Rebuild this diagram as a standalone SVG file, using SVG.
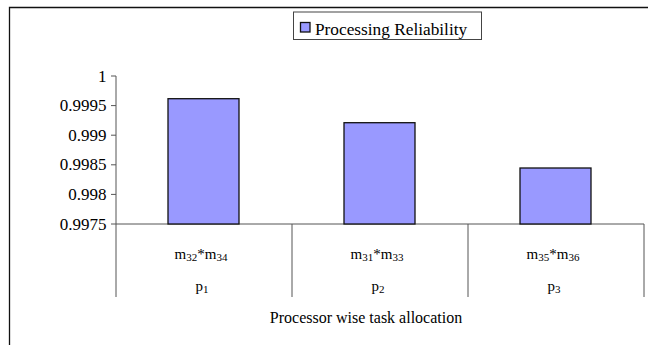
<svg xmlns="http://www.w3.org/2000/svg" width="648" height="345" viewBox="0 0 648 345" font-family="'Liberation Serif', 'Times New Roman', 'DejaVu Serif', serif">
<style>
text{font-family:'Liberation Serif','Times New Roman','DejaVu Serif',serif;fill:#000}
.tick{font-size:17px;text-anchor:end}
.cat{font-size:15px;text-anchor:middle}
.sub{font-size:11px}
.axis{stroke:#555;stroke-width:1;fill:none}
.bar{fill:#9999FF;stroke:#111;stroke-width:1.3}
</style>
<rect width="648" height="345" fill="#fff"/>
<g id="frame"><path d="M9.5 345V7.5H648" fill="none" stroke="#111" stroke-width="1.3"/></g>
<g id="legend">
<rect x="293.5" y="12" width="188" height="27.5" fill="#fff" stroke="#444" stroke-width="1"/>
<rect x="300.5" y="22.5" width="9.5" height="9.5" class="bar"/>
<text x="315" y="34.5" font-size="17.3">Processing Reliability</text>
</g>
<g id="axes">
<path class="axis" d="M116 76V297M111 76H116M111 105.6H116M111 135.2H116M111 164.8H116M111 194.4H116M111 224H644M292 224V297M468 224V297M644 224V297"/>
<text class="tick" x="106.5" y="81.5">1</text>
<text class="tick" x="106.5" y="111">0.9995</text>
<text class="tick" x="106.5" y="140.5">0.999</text>
<text class="tick" x="106.5" y="170">0.9985</text>
<text class="tick" x="106.5" y="200">0.998</text>
<text class="tick" x="106.5" y="229.5">0.9975</text>
</g>
<g id="bars">
<rect id="bar-p1" class="bar" x="168" y="98.7" width="71" height="125.3"/>
<rect id="bar-p2" class="bar" x="344" y="122.7" width="71" height="101.3"/>
<rect id="bar-p3" class="bar" x="520" y="168" width="71" height="56"/>
</g>
<g id="labels">
<text class="cat" x="201" y="259">m<tspan class="sub" dy="2">32</tspan><tspan dy="-2">*m</tspan><tspan class="sub" dy="2">34</tspan></text>
<text class="cat" x="377" y="259">m<tspan class="sub" dy="2">31</tspan><tspan dy="-2">*m</tspan><tspan class="sub" dy="2">33</tspan></text>
<text class="cat" x="553" y="259">m<tspan class="sub" dy="2">35</tspan><tspan dy="-2">*m</tspan><tspan class="sub" dy="2">36</tspan></text>
<text class="cat" x="202" y="290.5">p<tspan class="sub" dy="2">1</tspan></text>
<text class="cat" x="378" y="290.5">p<tspan class="sub" dy="2">2</tspan></text>
<text class="cat" x="554" y="290.5">p<tspan class="sub" dy="2">3</tspan></text>
<text x="366" y="323" font-size="16" text-anchor="middle">Processor wise task allocation</text>
</g>
</svg>
